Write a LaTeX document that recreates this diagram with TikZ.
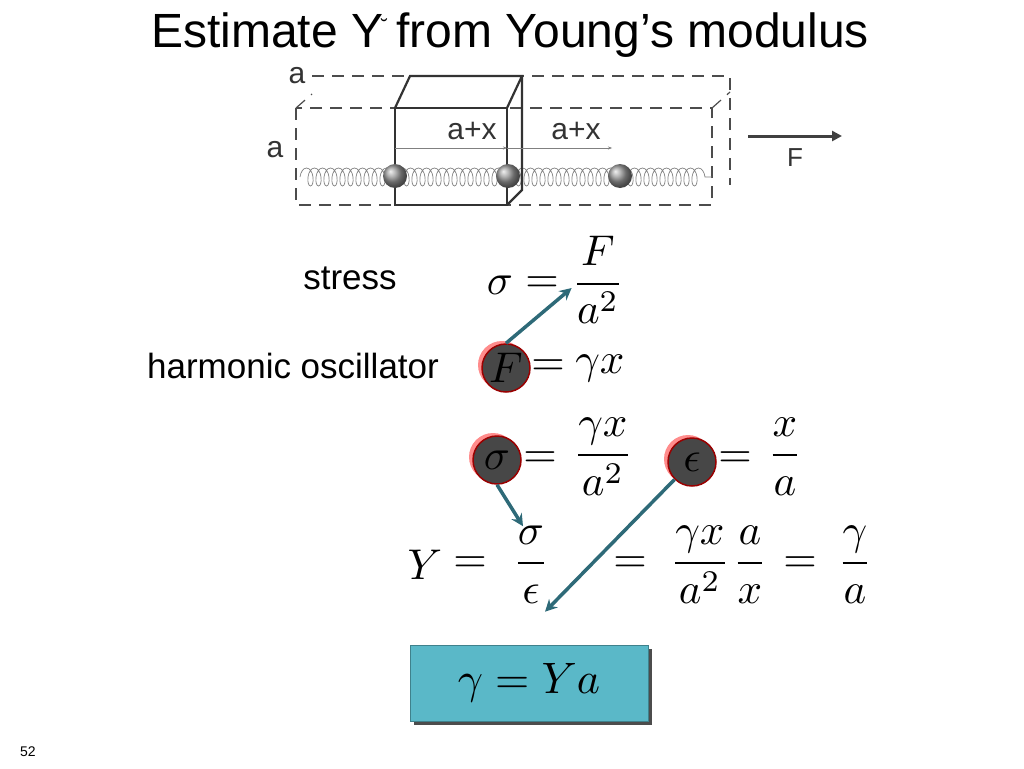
\documentclass[tikz,border=0pt]{standalone}
\usepackage{amsmath}
\usepackage{fontspec}
\setsansfont{Liberation Sans}
\usetikzlibrary{decorations.pathmorphing,arrows.meta,shadows}
\definecolor{teal1}{HTML}{2E6A78}
\definecolor{boxc}{HTML}{5AB8C8}
\newcommand\BMx[1]{\scalebox{4.3}{$#1$}}
\tikzset{
  lbl/.style={font=\sffamily\fontsize{35}{40}\selectfont},
  eq/.style={inner sep=0pt},
  small/.style={font=\sffamily\fontsize{30}{32}\selectfont, black!80},
  hl/.style={circle, minimum size=48pt, inner sep=0pt, fill=black!72, draw=red!60!black, line width=1.5pt},
  conn/.style={teal1, line width=3.5pt, -{Stealth[length=12pt,width=12pt]}},
  dsh/.style={dashed, dash pattern=on 12pt off 8pt, black!70, line width=1.2pt},
  spr/.style={gray, line width=0.7pt, decorate, decoration={coil, amplitude=9pt, segment length=8pt, aspect=0.5}},
  ball/.style={circle, minimum size=24pt, inner sep=0pt, ball color=gray!80},
}
\begin{document}
\begin{tikzpicture}[x=1pt,y=-1pt]
\useasboundingbox (0,0) rectangle (1024,768);
\node[font=\sffamily\fontsize{48}{52}\selectfont] (title) at (510,35) {Estimate Y\rlap{\kern-2pt\raisebox{14pt}{\fontsize{20}{20}\selectfont ˘}} from Young’s modulus};
% top figure
\draw[dsh] (296,108) rectangle (712,205);
\draw[dsh] (312,76) -- (730,76) -- (730,185);
\draw[dsh] (296,108) -- (312,94);
\draw[dsh] (712,108) -- (730,92);
\draw[spr] (300,177) -- (712,177);
\draw[line width=2.2pt, black!80] (395,108) rectangle (507,205);
\draw[line width=2.2pt, black!80] (395,108) -- (410,76) -- (522,76) -- (507,108);
\draw[line width=2.2pt, black!80] (522,76) -- (522,190) -- (507,205);
\draw[gray, -{Stealth[length=4pt]}] (395,148) -- (507,148);
\draw[gray, -{Stealth[length=4pt]}] (507,148) -- (612,148);
\node[ball] (b1) at (395,176) {};
\node[ball] (b2) at (508,176) {};
\node[ball] (b3) at (620,176) {};
\node[small] (ax1) at (472,131) {a+x};
\node[small] (ax2) at (576,131) {a+x};
\node[small] (la1) at (297,76) {a};
\node[small] (la2) at (275,150) {a};
\coordinate (f1) at (748,136); \coordinate (f2) at (842,136);
\draw[black!75, line width=3pt, -{Triangle[length=10pt,width=10pt]}] (f1) -- (f2);
\node[font=\sffamily\fontsize{26}{28}\selectfont, black!80] (lF) at (795,158) {F};
% labels
\node[lbl] (stress) at (350,278) {stress};
\node[lbl] (harm) at (293,366) {harmonic oscillator};
\node[font=\sffamily\fontsize{14}{16}\selectfont] (num) at (28,752) {52};
% equations
\node[eq] (s1) at (500,285) {\BMx{\sigma}};
\node[eq] (e1) at (542,285) {\BMx{=}};
\node[eq] (fr1) at (598,280) {\BMx{\dfrac{F}{a^2}}};
\node[hl, fill=red!45, draw=none] at (502,365) {};
\node[hl] (cF) at (506,368) {};
\node[eq] (F2) at (506,368) {\BMx{F}};
\node[eq] (e2) at (548,368) {\BMx{=}};
\node[eq] (gx) at (600,368) {\BMx{\gamma x}};
\node[hl, fill=red!45, draw=none] at (493,457) {};
\node[hl] (cs) at (497,460) {};
\node[eq] (s3) at (497,460) {\BMx{\sigma}};
\node[eq] (e3) at (540,460) {\BMx{=}};
\node[eq] (fr3) at (603,457) {\BMx{\dfrac{\gamma x}{a^2}}};
\node[hl, fill=red!45, draw=none] at (688,459) {};
\node[hl] (ce) at (692,462) {};
\node[eq] (ep) at (692,462) {\BMx{\epsilon}};
\node[eq] (e4) at (735,460) {\BMx{=}};
\node[eq] (fr4) at (785,457) {\BMx{\dfrac{x}{a}}};
\node[eq] (Y) at (425,565) {\BMx{Y}};
\node[eq] (e5) at (470,565) {\BMx{=}};
\node[eq] (fr5) at (531,565) {\BMx{\dfrac{\sigma}{\epsilon}}};
\node[eq] (e6) at (630,565) {\BMx{=}};
\node[eq] (fr6) at (700,565) {\BMx{\dfrac{\gamma x}{a^2}}};
\node[eq] (fr7) at (750,565) {\BMx{\dfrac{a}{x}}};
\node[eq] (e7) at (800,565) {\BMx{=}};
\node[eq] (fr8) at (855,565) {\BMx{\dfrac{\gamma}{a}}};
% box
\node[fill=boxc, draw=boxc!70!black, minimum width=238pt, minimum height=76pt, drop shadow={shadow xshift=4pt, shadow yshift=-4pt, fill=black!70, opacity=1}] (res) at (529,683) {\scalebox{4.4}{$\gamma = Ya$}};
% connectors
\draw[conn] (cF.north) -- ([yshift=-8pt]fr1.west);
\draw[conn] (cs.south) -- ([xshift=-8pt]fr5.north);
\draw[conn] (ce.south west) -- ([xshift=14pt,yshift=-8pt]fr5.south);
\end{tikzpicture}
\end{document}
